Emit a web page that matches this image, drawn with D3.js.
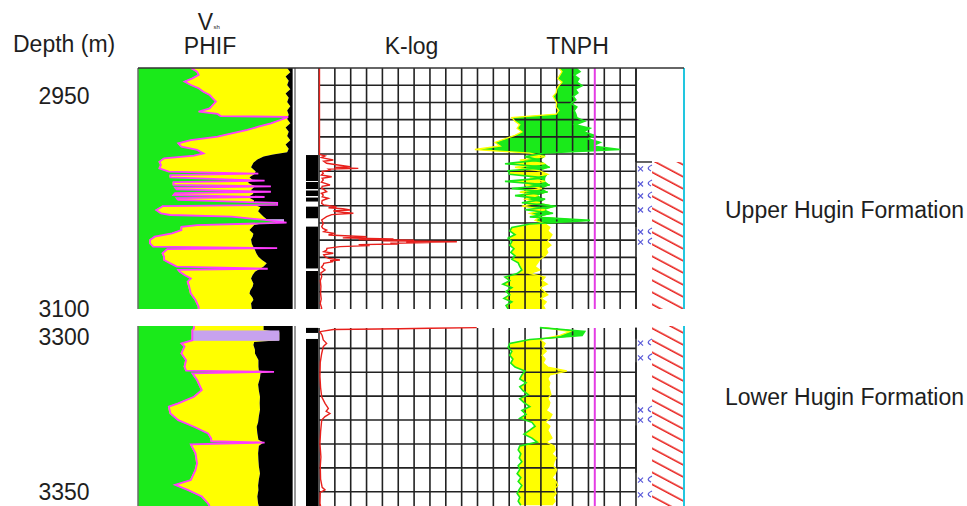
<!DOCTYPE html>
<html>
<head>
<meta charset="utf-8">
<script src="https://cdn.jsdelivr.net/npm/d3@7"></script>
<style>
  body { margin: 0; background: #fff; }
  svg { display: block; }
  text { font-family: "Liberation Sans", Arial, sans-serif; fill: #1e1e1e; }
</style>
</head>
<body>
<svg id="chart" width="967" height="506"></svg>
<script>
// ---------- depth windows (m) ----------
const upperDepthRange = [2930, 3100];
const lowerDepthRange = [3296.5, 3353.5];
const depthLabelsUpper = [2950, 3100];
const depthLabelsLower = [3300, 3350];
const upperGridRows = 14;            // horizontal grid divisions in the upper window
const lowerGridStart = 3296.0, lowerGridStep = 7.57;

// ---------- track headers ----------
const headerTexts = ["PHIF", "K-log", "TNPH"];
const formationNames = ["Upper Hugin Formation", "Lower Hugin Formation"];
const formationDepths = [3030.2, 3318.8];

// ---------- volumetric track: [depth, fraction of track width] ----------
// PHIF boundary (green | yellow), drawn with the magenta edge
const phifUpper = [
  [2930,.33],[2932.6,.37],[2934.9,.38],[2937.3,.34],[2939.6,.29],[2942.0,.33],[2944.3,.38],[2946.7,.41],
  [2949.0,.45],[2951.4,.47],[2953.7,.49],[2956.1,.47],[2958.5,.45],[2960.8,.38],[2962.4,.50],[2963.9,.52],
  [2964.5,.95],[2966.7,.90],[2969.0,.84],[2971.4,.76],[2973.7,.69],[2976.1,.59],[2978.4,.50],[2980.8,.33],
  [2983.1,.25],[2985.5,.27],[2987.8,.37],[2990.2,.41],[2991.8,.35],[2993.7,.16],[2996.1,.13],[2998.4,.14],
  [3000.8,.13],[3003.1,.19],[3004.5,.76],[3005.5,.20],[3007.1,.20],[3009.5,.80],[3010.5,.22],[3012.5,.22],
  [3013.5,.84],[3014.3,.23],[3015.6,.24],[3017.3,.84],[3018.3,.23],[3019.6,.22],[3021.0,.80],[3021.8,.24],
  [3023.1,.25],[3025.2,.88],[3026.5,.88],[3027.5,.15],[3028.3,.14],[3030.2,.11],[3032.5,.14],[3033.7,.20],
  [3034.9,.59],[3037.2,.80],[3039.1,.94],[3040.8,.37],[3042.0,.27],[3044.3,.27],[3046.6,.21],[3049.0,.10],
  [3051.3,.07],[3053.7,.07],[3056.0,.09],[3057.0,.88],[3057.8,.18],[3060.7,.15],[3063.1,.16],[3065.4,.16],
  [3067.8,.20],[3070.1,.24],[3071.6,.82],[3072.4,.25],[3073.7,.26],[3076.0,.29],[3078.4,.33],[3080.7,.31],
  [3084.3,.32],[3089.0,.33],[3093.6,.36],[3098.4,.38],[3100,.38]
];
// Vsh boundary (yellow | black shale)
const vshUpper = [
  [2930,.95],[2933,.97],[2936,.94],[2939,.96],[2942,.95],[2945,.97],[2948,.94],[2951,.96],[2954,.95],
  [2957,.97],[2960,.95],[2963,.96],[2966,.95],[2969,.97],[2972,.94],[2975,.96],[2978,.95],[2981,.97],
  [2984,.94],[2987,.96],[2989.5,.95],[2991.0,.86],[2992.5,.80],[2994.5,.76],[2996.8,.735],[3000,.72],
  [3003,.75],[3005,.74],[3007,.71],[3009,.73],[3011,.70],[3013.5,.745],[3016,.72],[3018.7,.735],[3021,.70],
  [3023.5,.74],[3026,.73],[3028.3,.78],[3031,.765],[3034.9,.80],[3038.4,.84],[3040.8,.74],[3044.3,.71],
  [3047,.735],[3049,.73],[3051,.72],[3054,.725],[3058.4,.745],[3061,.755],[3063.1,.767],[3065.4,.79],
  [3067.8,.82],[3070.1,.80],[3073.7,.745],[3076,.73],[3078.4,.72],[3082,.735],[3084.3,.73],[3087,.715],
  [3089,.71],[3092,.73],[3093.6,.735],[3096,.72],[3100,.725]
];
const phifLower = [
  [3296.5,.35],[3297.3,.35],[3297.8,.34],[3301.0,.34],[3302.0,.27],[3303.0,.29],[3305.2,.27],[3307.3,.30],
  [3309.4,.29],[3310.6,.30],[3311.0,.86],[3311.5,.34],[3313.6,.37],[3316.8,.40],[3318.9,.35],[3321.0,.25],
  [3322.0,.19],[3324.2,.20],[3326.3,.25],[3328.4,.35],[3330.5,.44],[3332.1,.46],[3333.0,.46],[3333.4,.80],
  [3334.0,.33],[3336.8,.36],[3340.0,.37],[3342.1,.36],[3345.3,.33],[3346.8,.23],[3348.4,.31],[3350.5,.40],
  [3352.7,.44],[3353.5,.45]
];
const vshLower = [
  [3296.5,.80],[3297.8,.80],[3298.5,.90],[3301.0,.90],[3301.6,.74],[3302.5,.735],[3304,.745],[3305.2,.745],
  [3307.3,.767],[3309.4,.767],[3310.7,.77],[3311.0,.86],[3311.5,.78],[3313,.777],[3315,.765],[3317,.77],
  [3318.9,.777],[3321,.775],[3323,.777],[3325,.77],[3327,.765],[3328.4,.756],[3330.5,.76],[3332.5,.767],
  [3333.4,.80],[3334.4,.77],[3336.8,.765],[3339,.767],[3341,.77],[3343.2,.777],[3345,.77],[3347,.765],
  [3348.4,.767],[3350.5,.76],[3352.7,.765],[3353.5,.77]
];
// mixed-mineral streaks: [top, base, left fraction, right fraction]
const streaksUpper = [[3036.6, 3039.4, .55, .93]];
const streaksLower = [[3297.9, 3301.2, .34, .90]];

// ---------- K-log: [depth, grid units] ----------
const kLogDomain = [0, 20];
const kLogUpper = [
  [2930,.03],[2991.0,.03],[2992.0,.38],[2993.2,.15],[2994.9,.9],[2995.8,.3],[2997.2,.48],[2998.4,1.2],
  [2999.6,1.96],[3000.2,1.0],[3000.8,2.48],[3001.3,.6],[3002.0,.69],[3003,.2],[3004.3,.27],[3005.5,.15],
  [3006.7,.8],[3007.8,.2],[3009.0,.27],[3010.5,.15],[3012.5,.69],[3013.5,.2],[3014.9,.17],[3016,.35],
  [3017.2,.48],[3018.4,.15],[3019.6,.27],[3020.8,.2],[3021.9,.59],[3023.5,.2],[3025.5,.17],[3026.6,.3],
  [3027.8,1.11],[3028.6,.6],[3029.3,1.5],[3030.2,1.96],[3030.8,.9],[3031.3,1.11],[3031.9,1.6],[3032.5,2.17],
  [3033.4,.8],[3034.9,.48],[3037.2,.17],[3039.6,.27],[3041.9,.17],[3043.2,.25],[3044.3,.48],[3045.5,.3],
  [3046.6,.9],[3047.8,.6],[3049.0,3.0],[3049.8,1.5],[3050.6,4.7],[3051.0,2.5],[3051.5,6.0],[3051.9,4.0],
  [3052.3,7.5],[3052.6,8.7],[3052.9,5.5],[3053.2,7.0],[3053.6,4.5],[3054.1,5.0],[3054.6,2.5],[3055.3,3.2],
  [3056.0,1.32],[3057.2,.5],[3058.4,.48],[3059.5,.3],[3060.7,.9],[3061.8,.3],[3063.1,.38],[3064.3,.6],
  [3065.4,1.32],[3066.0,.7],[3066.6,.9],[3067.8,.3],[3068.9,.27],[3070.5,.15],[3072.5,.38],[3074.5,.12],
  [3077.2,.17],[3080,.08],[3084,.12],[3089.0,.1],[3093,.14],[3096,.08],[3099.5,.17],[3100,.1]
];
const kLogLower = [
  [3297.0,9.95],[3297.2,7.0],[3297.35,5.1],[3297.6,.9],[3298.3,.06],[3299.5,.2],[3300.9,.27],[3302.0,.48],
  [3303.0,.27],[3305.2,.17],[3308,.08],[3312.5,.06],[3316,.1],[3318.9,.17],[3321.0,.38],[3322.6,.59],
  [3323.5,.45],[3324.2,.69],[3325.2,.38],[3326.3,.17],[3330,.1],[3333.7,.06],[3338,.12],[3341,.08],
  [3345,.1],[3347.6,.2],[3348.4,.38],[3349.2,.08],[3352.7,.06],[3353.5,.1]
];

// ---------- TNPH: [depth, TNPH, density porosity] (v/v) ----------
const tnphDomain = [0.6, 0];
const tnphCutoff = 0.078;
const tnphUpper = [
  [2930,.114,.146],[2932.5,.106,.140],[2935,.117,.144],[2937.5,.108,.148],[2940,.112,.140],[2942.5,.102,.146],
  [2945,.115,.150],[2947.5,.110,.151],[2950,.119,.157],[2952.5,.114,.153],[2955,.123,.150],[2957.5,.112,.151],
  [2960,.117,.146],[2962.5,.114,.151],[2965,.112,.235],[2967.5,.097,.229],[2970,.115,.220],[2972.5,.087,.225],
  [2975,.100,.216],[2977.5,.078,.229],[2980,.091,.248],[2982.5,.068,.267],[2985,.083,.257],[2987.5,.030,.305],
  [2990,.172,.201],[2992.5,.210,.172],[2995,.182,.220],[2997.5,.248,.172],[3000,.163,.229],[3002.5,.242,.182],
  [3005,.239,.167],[3007.5,.172,.201],[3010,.248,.172],[3012.5,.163,.210],[3015,.235,.178],[3017.5,.167,.220],
  [3020,.229,.186],[3022.5,.172,.210],[3025,.216,.182],[3027.5,.151,.216],[3030,.210,.172],[3032.5,.157,.201],
  [3035,.201,.182],[3037.5,.087,.191],[3040,.201,.172],[3042.5,.235,.163],[3045,.239,.167],[3047.5,.229,.159],
  [3050,.242,.163],[3052.5,.235,.168],[3055,.239,.161],[3057.5,.231,.170],[3060,.237,.167],[3062.5,.229,.172],
  [3065,.235,.182],[3067.5,.223,.186],[3070,.220,.191],[3072.5,.216,.182],[3075,.225,.201],[3077.5,.248,.172],
  [3080,.239,.178],[3082.5,.252,.168],[3085,.235,.182],[3087.5,.246,.174],[3090,.239,.167],[3092.5,.250,.180],
  [3095,.235,.170],[3097.5,.246,.176],[3100,.242,.172]
];
const tnphLower = [
  [3297,.182,.172],[3298.25,.097,.125],[3299.5,.102,.144],[3300.75,.201,.182],[3302,.239,.172],
  [3303.25,.242,.176],[3304.5,.235,.170],[3305.75,.239,.178],[3307,.233,.172],[3308.25,.237,.176],
  [3309.5,.229,.167],[3310.75,.210,.131],[3312,.216,.163],[3313.25,.220,.167],[3314.5,.208,.163],
  [3315.75,.220,.165],[3317,.214,.163],[3318.25,.204,.161],[3319.5,.220,.167],[3320.75,.212,.163],
  [3322,.201,.165],[3323.25,.216,.170],[3324.5,.208,.159],[3325.75,.220,.163],[3327,.197,.172],
  [3328.25,.191,.163],[3329.5,.201,.167],[3330.75,.212,.163],[3332,.197,.159],[3333.25,.187,.170],
  [3334.5,.220,.155],[3335.75,.223,.153],[3337,.218,.159],[3338.25,.221,.151],[3339.5,.216,.155],
  [3340.75,.223,.157],[3342,.220,.150],[3343.25,.225,.153],[3344.5,.218,.159],[3345.75,.223,.151],
  [3347,.216,.148],[3348.25,.221,.155],[3349.5,.225,.151],[3350.75,.220,.157],[3352,.223,.153],
  [3353.25,.218,.159]
];

// ---------- flag column: [top, base] ----------
const flagsUpper = [[2991.4,3009.7],[3010.4,3015.4],[3016.4,3020.3],[3021.4,3024.2],[3027.8,3036.0],[3041.9,3071.4],[3073.2,3100]];
const flagsLower = [[3297.1,3298.7],[3300.6,3353.5]];

// ---------- lithology column ----------
const sandUpper = [2996.3, 3100];
const sandLower = [3296.5, 3353.5];
const edgeUpper = [[2930,2996.3],[3037.2,3042.2],[3063.3,3100]];
const edgeLower = [[3297,3300.5],[3308,3321],[3328,3343]];
const symbolsUpper = [3001.2, 3011.8, 3020.3, 3030.2, 3045.7, 3052.8];
const symbolsLower = [3301.9, 3306.6, 3323.1, 3326.3, 3345.3, 3350.0];

// ---------- layout ----------
const COL = { volL: 138, volR: 295, flagL: 306, flagR: 318, gridL: 319, gridR: 636, hatchL: 652, lithR: 684 };
const C = {
  green: "#1aea1a", yellow: "#ffff00", black: "#000", magenta: "#ff3cff", lavender: "#c7a2ee",
  red: "#e8201c", grid: "#222", cyan: "#22c6df", blue: "#5a5ad8", cutoff: "#e43ce4"
};
const FONT = 23;

const svg = d3.select("#chart");
const defs = svg.append("defs");

// sandstone hatching
defs.append("pattern")
  .attr("id", "hatch").attr("patternUnits", "userSpaceOnUse")
  .attr("width", 10).attr("height", 10.6)
  .attr("patternTransform", "rotate(28)")
  .append("line").attr("x1", 0).attr("x2", 10).attr("y1", 5).attr("y2", 5)
  .attr("stroke", C.red).attr("stroke-width", 1.6);

const xVol = d3.scaleLinear().domain([0, 1]).range([COL.volL, COL.volR]);
const xK = d3.scaleLinear().domain(kLogDomain).range([COL.gridL, COL.gridR]);
const xT = d3.scaleLinear().domain(tnphDomain).range([COL.gridL, COL.gridR]);

const panels = [
  {
    y: d3.scaleLinear().domain(upperDepthRange).range([68, 309]), gridTop: 68,
    phif: phifUpper, vsh: vshUpper, streaks: streaksUpper, k: kLogUpper, tn: tnphUpper,
    flags: flagsUpper, sand: sandUpper, edge: edgeUpper, symbols: symbolsUpper,
    rows: d3.range(1, upperGridRows).map(i => upperDepthRange[0] + i * (upperDepthRange[1] - upperDepthRange[0]) / upperGridRows),
    labels: depthLabelsUpper, sandTopStep: true
  },
  {
    y: d3.scaleLinear().domain(lowerDepthRange).range([326, 506]), gridTop: 328,
    phif: phifLower, vsh: vshLower, streaks: streaksLower, k: kLogLower, tn: tnphLower,
    flags: flagsLower, sand: sandLower, edge: edgeLower, symbols: symbolsLower,
    rows: d3.range(lowerGridStart + lowerGridStep, lowerDepthRange[1], lowerGridStep),
    labels: depthLabelsLower, sandTopStep: false
  }
];

panels.forEach((p, i) => {
  const y = p.y;
  const [top, bottom] = y.range();
  const clipId = "panel-clip-" + i;
  defs.append("clipPath").attr("id", clipId).append("rect")
    .attr("x", 120).attr("y", top).attr("width", 600).attr("height", bottom - top);
  const g = svg.append("g").attr("clip-path", `url(#${clipId})`);

  // --- volumetric track: yellow matrix, black shale, green porosity ---
  const volEnd = 0.985;
  g.append("path").datum(p.vsh)
    .attr("fill", C.yellow)
    .attr("d", d3.area().y(d => y(d[0])).x0(xVol(0)).x1(d => xVol(d[1])));
  g.append("path").datum(p.vsh)
    .attr("fill", C.black)
    .attr("d", d3.area().y(d => y(d[0])).x0(d => xVol(d[1])).x1(xVol(volEnd)));
  g.selectAll(".streak").data(p.streaks).join("rect")
    .attr("x", d => xVol(d[2])).attr("width", d => xVol(d[3]) - xVol(d[2]))
    .attr("y", d => y(d[0])).attr("height", d => y(d[1]) - y(d[0]))
    .attr("fill", C.lavender);
  g.append("path").datum(p.phif)
    .attr("fill", C.green)
    .attr("d", d3.area().y(d => y(d[0])).x0(xVol(0)).x1(d => xVol(d[1])));
  g.append("path").datum(p.phif)
    .attr("fill", "none").attr("stroke", C.magenta).attr("stroke-width", 1.8)
    .attr("d", d3.line().x(d => xVol(d[1]) + 1).y(d => y(d[0])));
  // track borders
  g.append("line").attr("x1", COL.volL).attr("x2", COL.volL).attr("y1", top).attr("y2", bottom)
    .attr("stroke", "#6b6b6b").attr("stroke-width", 1.5);
  g.append("line").attr("x1", COL.volR).attr("x2", COL.volR).attr("y1", top).attr("y2", bottom)
    .attr("stroke", "#555").attr("stroke-width", 1.2);

  // --- flag column ---
  g.selectAll(".flag").data(p.flags).join("rect")
    .attr("x", COL.flagL).attr("width", COL.flagR - COL.flagL)
    .attr("y", d => y(d[0])).attr("height", d => y(d[1]) - y(d[0]))
    .attr("fill", C.black);

  // --- TNPH / density porosity crossover shading ---
  g.append("path").attr("fill", C.yellow)
    .attr("d", d3.area().y(d => y(d[0])).x0(d => xT(d[1])).x1(d => Math.max(xT(d[1]), xT(d[2])))(p.tn));
  g.append("path").attr("fill", C.green)
    .attr("d", d3.area().y(d => y(d[0])).x0(d => xT(d[2])).x1(d => Math.max(xT(d[1]), xT(d[2])))(p.tn));

  // --- grid ---
  const grid = g.append("g").attr("stroke", C.grid).attr("stroke-width", 1.6);
  grid.selectAll(".v").data(xK.ticks(20)).join("line")
    .attr("x1", d => xK(d)).attr("x2", d => xK(d))
    .attr("y1", p.gridTop).attr("y2", bottom);
  grid.selectAll(".h").data(p.rows).join("line")
    .attr("x1", COL.gridL).attr("x2", COL.gridR)
    .attr("y1", d => y(d)).attr("y2", d => y(d));

  // --- curves ---
  g.append("path").datum(p.tn).attr("fill", "none").attr("stroke", C.yellow).attr("stroke-width", 1.3)
    .attr("d", d3.line().x(d => xT(d[2])).y(d => y(d[0])));
  g.append("path").datum(p.tn).attr("fill", "none").attr("stroke", C.green).attr("stroke-width", 1.6)
    .attr("d", d3.line().x(d => xT(d[1])).y(d => y(d[0])));
  g.append("line").attr("x1", xT(tnphCutoff)).attr("x2", xT(tnphCutoff))
    .attr("y1", p.gridTop).attr("y2", bottom)
    .attr("stroke", C.cutoff).attr("stroke-width", 2);
  g.append("path").datum(p.k).attr("fill", "none").attr("stroke", C.red).attr("stroke-width", 1.4)
    .attr("d", d3.line().x(d => xK(d[1])).y(d => y(d[0])));

  // --- lithology column ---
  g.append("rect").attr("x", COL.hatchL).attr("width", COL.lithR - COL.hatchL)
    .attr("y", y(p.sand[0])).attr("height", y(p.sand[1]) - y(p.sand[0]))
    .attr("fill", "url(#hatch)");
  g.selectAll(".edge").data(p.edge).join("line")
    .attr("x1", COL.gridR).attr("x2", COL.gridR)
    .attr("y1", d => y(d[0])).attr("y2", d => y(d[1]))
    .attr("stroke", C.grid).attr("stroke-width", 1.6);
  if (p.sandTopStep) {
    g.append("line").attr("x1", COL.gridR).attr("x2", COL.hatchL)
      .attr("y1", y(p.sand[0])).attr("y2", y(p.sand[0]))
      .attr("stroke", C.grid).attr("stroke-width", 1.4);
  }
  const sym = g.append("g").attr("stroke", C.blue).attr("stroke-width", 1.2).attr("fill", "none");
  p.symbols.forEach(d => {
    const yy = y(d);
    sym.append("path").attr("d", `M638,${yy - 2.5}L643,${yy + 2.5}M638,${yy + 2.5}L643,${yy - 2.5}`);
    sym.append("path").attr("d", `M652,${yy - 4}Q645,${yy - 1} 651,${yy + 2}`);
  });
  g.append("line").attr("x1", COL.lithR).attr("x2", COL.lithR).attr("y1", top).attr("y2", bottom)
    .attr("stroke", C.cyan).attr("stroke-width", 2);

  // --- depth labels (kept inside the page at the lower edge) ---
  svg.selectAll(null).data(p.labels).join("text")
    .attr("x", 64).attr("y", d => Math.min(y(d) + 8, 500))
    .attr("text-anchor", "middle").attr("font-size", FONT)
    .text(d => d);
});

// top border across all tracks
svg.append("line").attr("x1", COL.volL).attr("x2", COL.lithR).attr("y1", 68).attr("y2", 68)
  .attr("stroke", "#333").attr("stroke-width", 1.5);

// headers
svg.append("text").attr("x", 13).attr("y", 52).attr("font-size", FONT).text("Depth (m)");
svg.append("text").attr("x", 205.5).attr("y", 30).attr("font-size", FONT).attr("text-anchor", "middle").text("V");
svg.append("text").attr("x", 213.5).attr("y", 29).attr("font-size", 6).text("sh");
const headerX = [210, 411.5, 577.5];
svg.selectAll(".hdr").data(headerTexts).join("text")
  .attr("x", (d, i) => headerX[i]).attr("y", 54)
  .attr("text-anchor", "middle").attr("font-size", FONT).text(d => d);

// formation names beside each window
const formY = [panels[0].y(formationDepths[0]), panels[1].y(formationDepths[1])];
svg.selectAll(".form").data(formationNames).join("text")
  .attr("x", 725).attr("y", (d, i) => formY[i]).attr("dy", "0.36em")
  .attr("font-size", FONT).text(d => d);
</script>
</body>
</html>
